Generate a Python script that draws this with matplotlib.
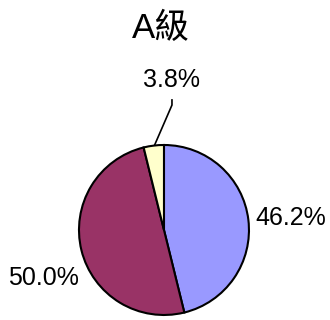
"""
Pie chart of grade A share
"""

# %% Imports
import matplotlib
matplotlib.use("Agg")
import matplotlib.pyplot as plt

# %% Data
title = "A級"
counts = [12, 13, 1]
pct_labels = ["46.2%", "50.0%", "3.8%"]
colors = ["#9999FF", "#993366", "#FFFFCC"]

plt.rcParams["font.family"] = ["Liberation Sans", "Noto Sans CJK TC", "DejaVu Sans"]

# %% Plot
fig = plt.figure(figsize=(3.3, 3.2), dpi=100)
ax = fig.add_axes([0, 0, 1, 1])
ax.pie(
    counts,
    colors=colors,
    startangle=90,
    counterclock=False,
    wedgeprops=dict(edgecolor="black", linewidth=1.5),
)
ax.set_aspect("equal")
ax.set_xlim(-1.929, 1.953)
ax.set_ylim(-1.059, 2.706)
ax.axis("off")

# labels placed like the spreadsheet output
ax.text(1.07, 0.14, pct_labels[0], ha="left", va="center", fontsize=18)
ax.text(-1.0, -0.56, pct_labels[1], ha="right", va="center", fontsize=18)
ax.text(0.09, 1.76, pct_labels[2], ha="center", va="center", fontsize=18)
ax.plot([0.094, 0.094, -0.11], [1.53, 1.47, 1.0], color="black", lw=1.2)

fig.text(161 / 330, 1 - 28 / 320, title, ha="center", va="center", fontsize=25)

fig.savefig("out.png", dpi=100)
